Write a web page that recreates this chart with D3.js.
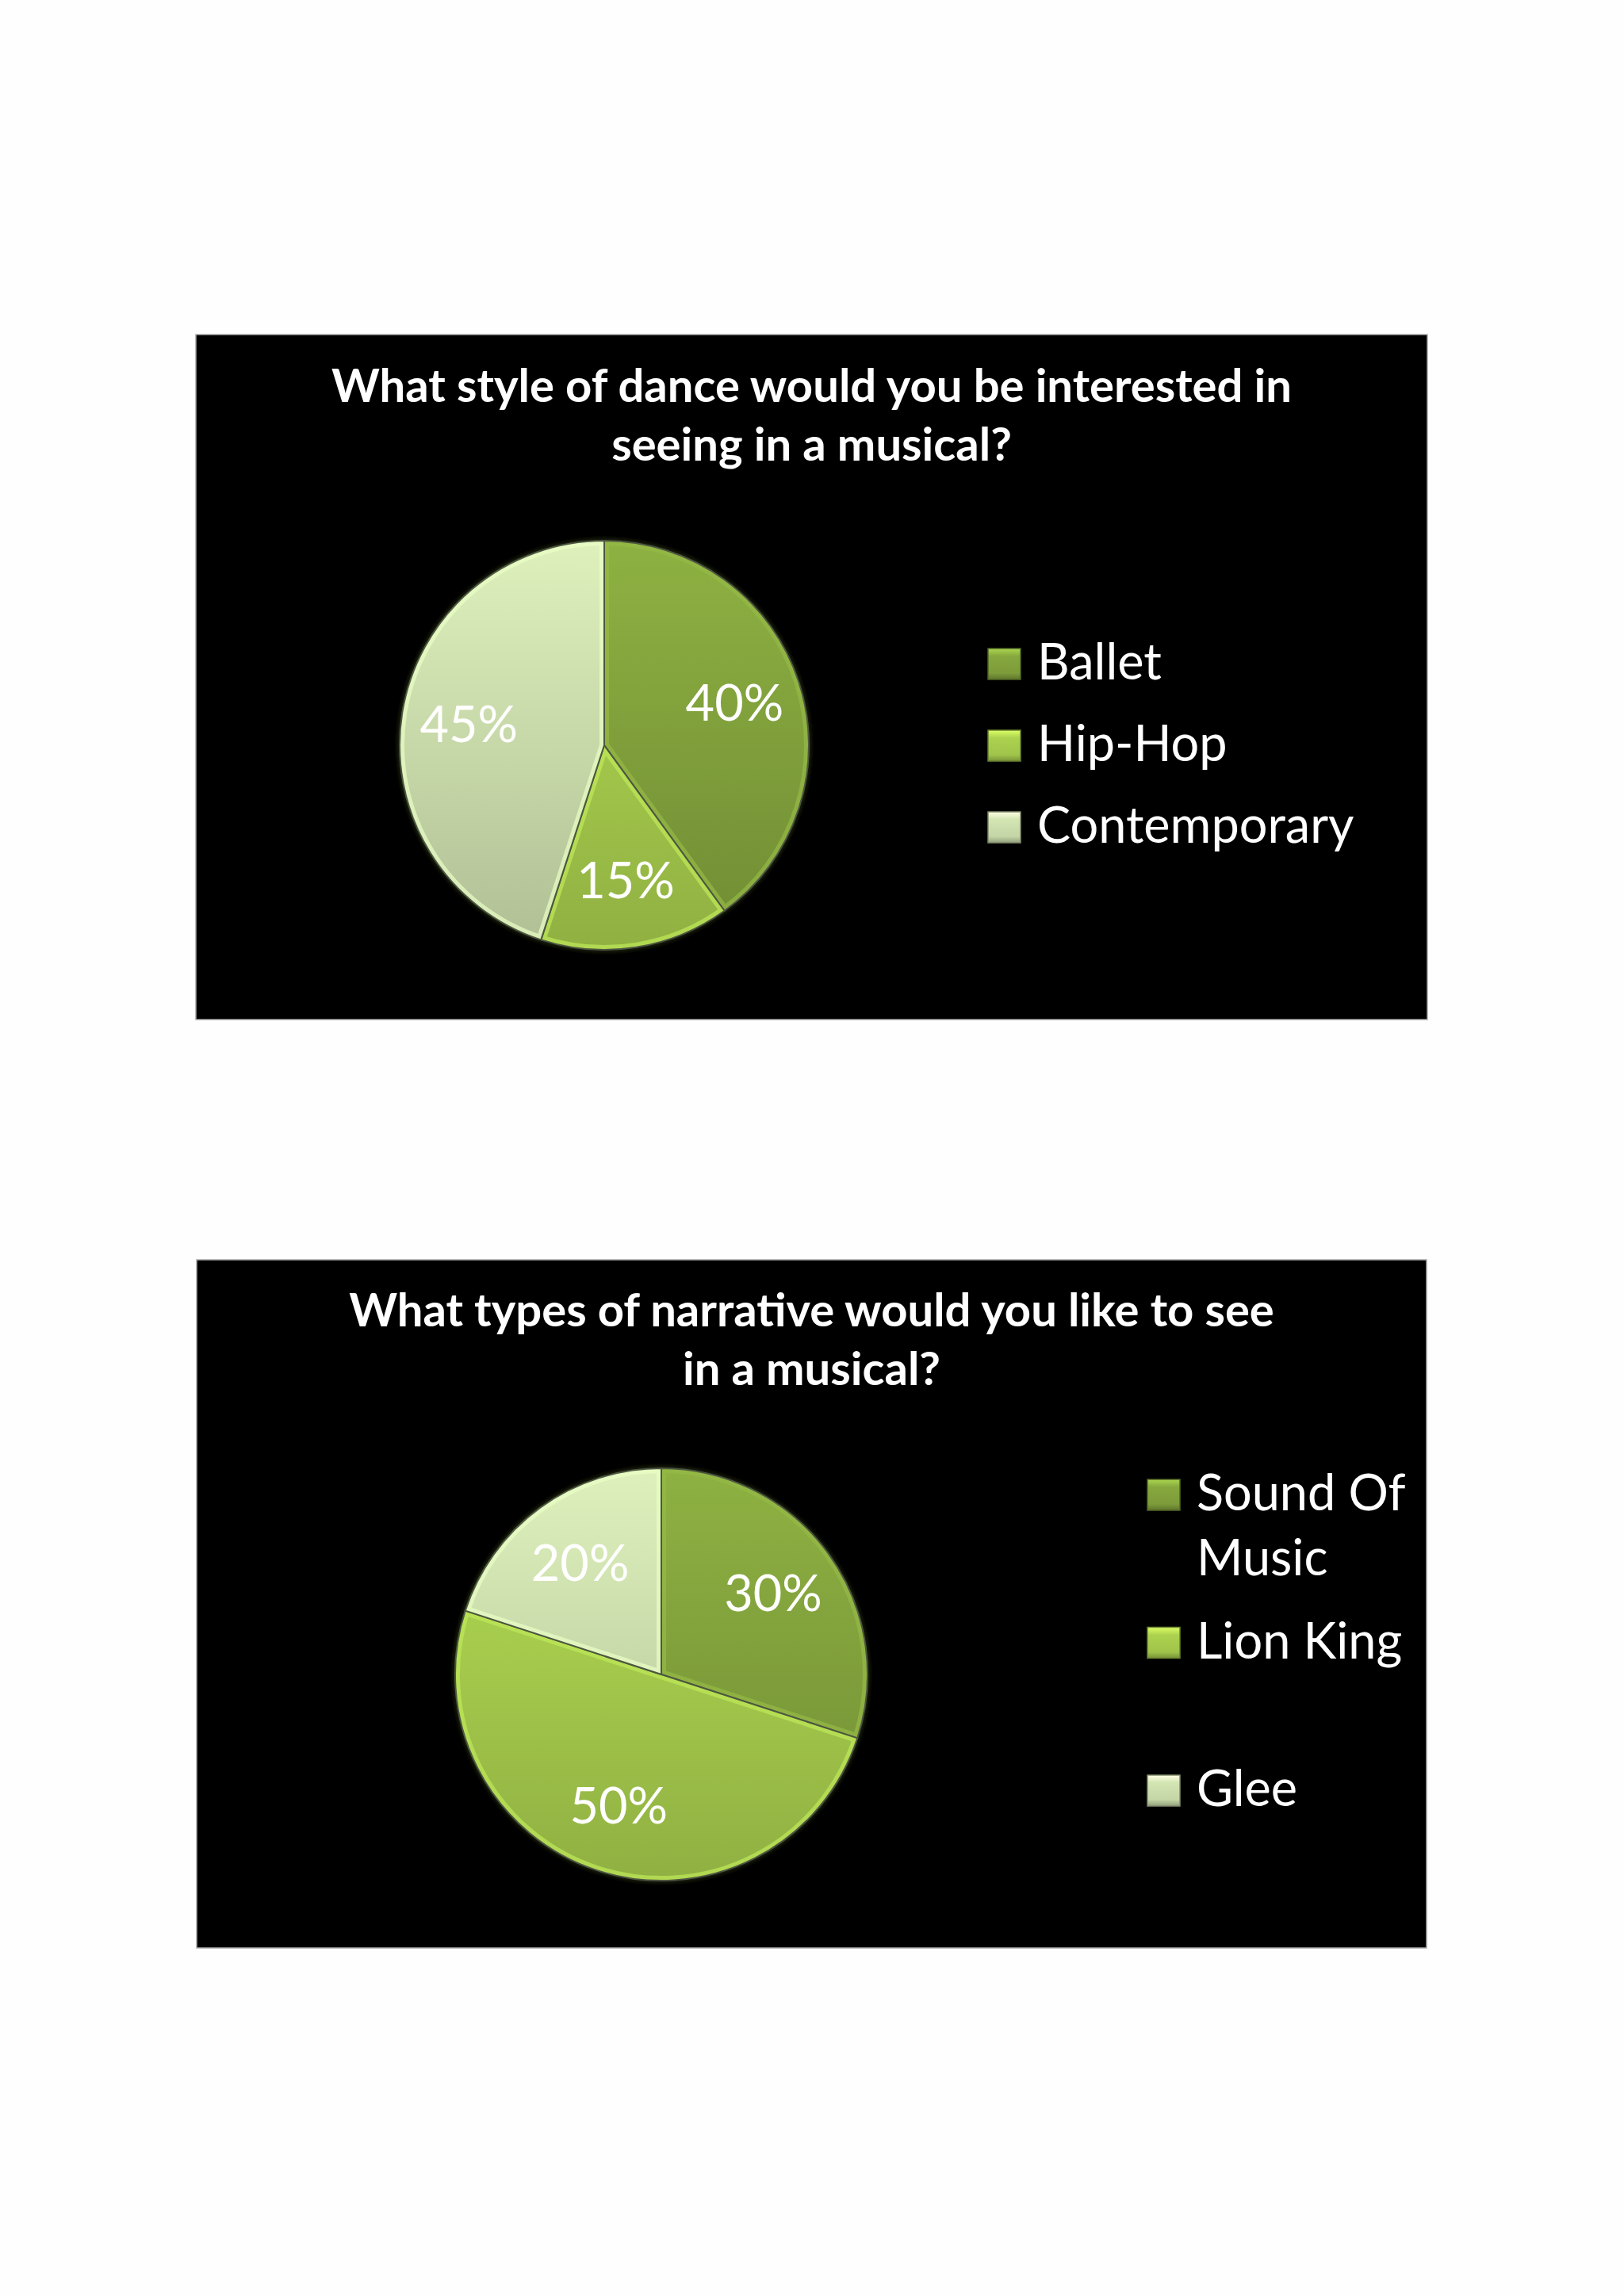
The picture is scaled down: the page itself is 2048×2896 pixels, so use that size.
<!DOCTYPE html>
<html lang="en">
<head>
    <meta charset="UTF-8">
    <title>Musical survey</title>
    <style>
        html, body { margin: 0; padding: 0; background: #fefefe; }
        #chart-wrapper { width: 2048px; height: 2896px; }
        text { font-family: Lato, 'Open Sans', sans-serif; fill: #ffffff; }
    </style>
</head>
<body>
    <div id="chart-wrapper"></div>

    <script src="https://d3js.org/d3.v7.min.js"></script>
    <script>
        // chart 1
        const danceTitle = ['What style of dance would you be interested in', 'seeing in a musical?']
        const danceStyles = ['Ballet', 'Hip-Hop', 'Contemporary']
        const danceShare = [40, 15, 45]

        // chart 2
        const narrativeTitle = ['What types of narrative would you like to see', 'in a musical?']
        const narratives = ['Sound Of Music', 'Lion King', 'Glee']
        const narrativeShare = [30, 50, 20]

        const sliceColors = ['#7d9c3a', '#a0c44a', '#c4d5a6']

        const width = 2048
        const height = 2896

        const charts = [
            {
                id: 'dance', title: danceTitle, cats: danceStyles, vals: danceShare,
                box: { x: 247, y: 422, w: 1553, h: 864 }, titleY: 507,
                pie: { cx: 762, cy: 940, r: 258 },
                legend: { x: 1246, y: 818, step: 103, wrap: 1000 }
            },
            {
                id: 'narr', title: narrativeTitle, cats: narratives, vals: narrativeShare,
                box: { x: 248, y: 1589, w: 1551, h: 868 }, titleY: 1673,
                pie: { cx: 834, cy: 2112, r: 260 },
                legend: { x: 1447, y: 1866, step: 186.5, wrap: 285 }
            }
        ]

        const svg = d3.select('#chart-wrapper')
            .append('svg')
            .attr('width', width)
            .attr('height', height)

        svg.append('rect')
            .attr('width', width)
            .attr('height', height)
            .attr('fill', '#fefefe')

        const defs = svg.append('defs')

        defs.append('filter')
            .attr('id', 'soft')
            .append('feGaussianBlur')
            .attr('stdDeviation', 2.5)

        const pie = d3.pie().sort(null).value(d => d.v)

        charts.forEach(c => {
            const g = svg.append('g')

            g.append('rect')
                .attr('x', c.box.x)
                .attr('y', c.box.y)
                .attr('width', c.box.w)
                .attr('height', c.box.h)
                .attr('fill', '#000000')
                .attr('stroke', '#a8a8a8')
                .attr('stroke-width', 1.5)

            // title
            g.append('text')
                .attr('x', c.box.x + c.box.w / 2)
                .attr('y', c.titleY)
                .attr('text-anchor', 'middle')
                .attr('font-size', 58)
                .attr('font-weight', 700)
                .selectAll('tspan')
                .data(c.title)
                .enter()
                .append('tspan')
                .attr('x', c.box.x + c.box.w / 2)
                .attr('dy', (d, i) => i ? 74 : 0)
                .text(d => d)

            const { cx, cy, r } = c.pie

            // vertical gradients per colour, spanning the whole pie
            sliceColors.forEach((col, i) => {
                const base = d3.color(col)
                const grad = defs.append('linearGradient')
                    .attr('id', `${ c.id }-g${ i }`)
                    .attr('gradientUnits', 'userSpaceOnUse')
                    .attr('x1', 0).attr('x2', 0)
                    .attr('y1', cy - r).attr('y2', cy + r)
                grad.append('stop').attr('offset', 0).attr('stop-color', base.brighter(0.35))
                grad.append('stop').attr('offset', 1).attr('stop-color', base.darker(0.3))

                const edge = defs.append('linearGradient')
                    .attr('id', `${ c.id }-e${ i }`)
                    .attr('gradientUnits', 'userSpaceOnUse')
                    .attr('x1', cx - r).attr('x2', cx + r)
                    .attr('y1', cy - r).attr('y2', cy + r)
                edge.append('stop').attr('offset', 0).attr('stop-color', base.brighter(0.5))
                edge.append('stop').attr('offset', 0.5).attr('stop-color', base)
                edge.append('stop').attr('offset', 1).attr('stop-color', base.darker(1))

                const sq = defs.append('linearGradient')
                    .attr('id', `${ c.id }-s${ i }`)
                    .attr('x1', 0).attr('x2', 0).attr('y1', 0).attr('y2', 1)
                sq.append('stop').attr('offset', 0).attr('stop-color', base.brighter(0.9))
                sq.append('stop').attr('offset', 0.25).attr('stop-color', base.brighter(0.2))
                sq.append('stop').attr('offset', 0.8).attr('stop-color', base)
                sq.append('stop').attr('offset', 1).attr('stop-color', base.darker(0.8))
            })

            const arcs = pie(c.cats.map((k, i) => ({ k, v: c.vals[i], i })))
            const arc = d3.arc().innerRadius(0).outerRadius(r)
            const labelArc = d3.arc().innerRadius(r * 0.67).outerRadius(r * 0.67)

            const pg = g.append('g').attr('transform', `translate(${ cx }, ${ cy })`)

            // dark rim behind the pie
            pg.append('circle')
                .attr('r', r + 3)
                .attr('fill', '#1c2410')
                .attr('filter', 'url(#soft)')

            pg.selectAll('clipPath')
                .data(arcs)
                .enter()
                .append('clipPath')
                .attr('id', d => `${ c.id }-clip${ d.data.i }`)
                .append('path')
                .attr('d', arc)

            const slices = pg.selectAll('g.slice')
                .data(arcs)
                .enter()
                .append('g')
                .attr('class', 'slice')

            // fill + soft bevel edge, clipped to the slice
            const inner = slices.append('g')
                .attr('clip-path', d => `url(#${ c.id }-clip${ d.data.i })`)

            inner.append('rect')
                .attr('x', -r - 5).attr('y', -r - 5)
                .attr('width', 2 * r + 10).attr('height', 2 * r + 10)
                .attr('transform', `translate(${ -cx }, ${ -cy })`)
                .attr('x', cx - r - 5).attr('y', cy - r - 5)
                .attr('fill', d => `url(#${ c.id }-g${ d.data.i })`)

            inner.append('path')
                .attr('d', arc)
                .attr('fill', 'none')
                .attr('stroke', d => `url(#${ c.id }-e${ d.data.i })`)
                .attr('stroke-width', 12)
                .attr('stroke-opacity', 0.7)
                .attr('transform', `translate(${ -cx }, ${ -cy })`)
                .attr('d', d => arc(d))
                .attr('transform', null)

            slices.append('path')
                .attr('d', arc)
                .attr('fill', 'none')
                .attr('stroke', '#4d5640')
                .attr('stroke-width', 2)
                .attr('stroke-linejoin', 'round')

            slices.append('text')
                .attr('transform', d => `translate(${ labelArc.centroid(d) })`)
                .attr('text-anchor', 'middle')
                .attr('dy', '0.36em')
                .attr('font-size', 63)
                .text(d => `${ d.data.v }%`)

            // legend
            const lg = g.append('g')
            let y = c.legend.y
            c.cats.forEach((name, i) => {
                const item = lg.append('g').attr('transform', `translate(${ c.legend.x }, ${ y })`)
                item.append('rect')
                    .attr('width', 41)
                    .attr('height', 39)
                    .attr('fill', `url(#${ c.id }-s${ i })`)
                    .attr('stroke', d3.color(sliceColors[i]).darker(1.2))
                    .attr('stroke-width', 1.5)
                const t = item.append('text')
                    .attr('x', 62)
                    .attr('y', 39)
                    .attr('font-size', 63)
                // simple word wrap
                const words = name.split(' ')
                let line = []
                let tspan = t.append('tspan').attr('x', 62).attr('dy', 0)
                words.forEach(w => {
                    line.push(w)
                    tspan.text(line.join(' '))
                    if (tspan.node().getComputedTextLength() > c.legend.wrap && line.length > 1) {
                        line.pop()
                        tspan.text(line.join(' '))
                        line = [w]
                        tspan = t.append('tspan').attr('x', 62).attr('dy', 82).text(w)
                    }
                })
                y += c.legend.step
            })
        })
    </script>
</body>
</html>
